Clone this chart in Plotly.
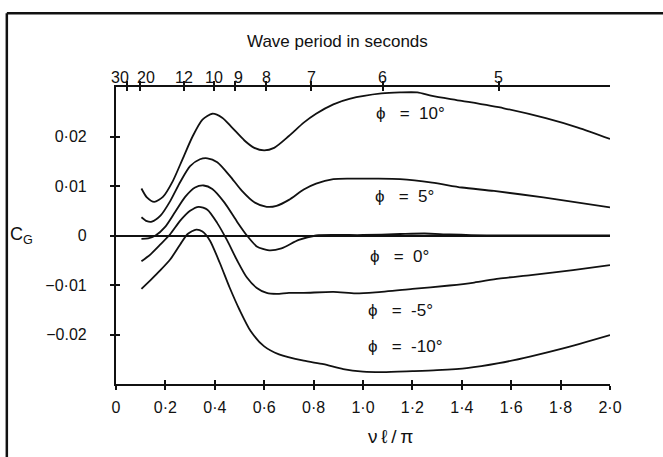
import plotly.graph_objects as go

# Gust coefficient C_G against nondimensional wave number, one curve per heading angle
x_p10 = [0.103, 0.125, 0.155, 0.19, 0.23, 0.27, 0.31, 0.35, 0.39, 0.43, 0.47, 0.52, 0.56, 0.60,
         0.64, 0.70, 0.76, 0.81, 0.88, 0.945, 1.075, 1.15, 1.22, 1.28, 1.40, 1.57, 1.74, 1.87, 2.00]
y_p10 = [0.0095, 0.0077, 0.0068, 0.0078, 0.0110, 0.0155, 0.0200, 0.0234, 0.0246, 0.0238, 0.0218,
         0.0192, 0.0177, 0.0172, 0.0177, 0.0201, 0.0228, 0.0246, 0.0265, 0.0276, 0.0287, 0.0289,
         0.0289, 0.0282, 0.0272, 0.0257, 0.0237, 0.0218, 0.0195]

x_p5 = [0.103, 0.125, 0.145, 0.18, 0.22, 0.26, 0.30, 0.34, 0.37, 0.41, 0.46, 0.51, 0.56, 0.61,
        0.65, 0.70, 0.76, 0.81, 0.88, 0.95, 1.05, 1.15, 1.28, 1.40, 1.53, 1.73, 2.00]
y_p5 = [0.0037, 0.0029, 0.0028, 0.0040, 0.0070, 0.0108, 0.0140, 0.0154, 0.0156, 0.0148, 0.0121,
        0.0090, 0.0067, 0.0058, 0.0060, 0.0072, 0.0093, 0.0105, 0.0114, 0.0115, 0.0115, 0.0114,
        0.0107, 0.0097, 0.0090, 0.0077, 0.0057]

x_0 = [0.103, 0.13, 0.16, 0.20, 0.24, 0.28, 0.32, 0.355, 0.39, 0.44, 0.49, 0.53, 0.57, 0.62,
       0.67, 0.74, 0.81, 0.90, 1.00, 1.15, 1.25, 1.35, 1.50, 2.00]
y_0 = [-0.0007, -0.0006, 0.0000, 0.0018, 0.0048, 0.0078, 0.0097, 0.0101, 0.0094, 0.0066, 0.0028,
       0.0000, -0.0022, -0.0030, -0.0026, -0.0009, 0.0000, 0.0001, 0.0001, 0.0003, 0.0004,
       0.0002, 0.0000, 0.0000]

x_m5 = [0.103, 0.14, 0.18, 0.22, 0.26, 0.30, 0.335, 0.37, 0.41, 0.45, 0.49, 0.53, 0.57, 0.61,
        0.65, 0.70, 0.76, 0.88, 0.97, 1.05, 1.20, 1.35, 1.45, 1.55, 1.68, 1.85, 2.00]
y_m5 = [-0.0052, -0.0038, -0.0018, 0.0003, 0.0030, 0.0050, 0.0058, 0.0052, 0.0025, -0.0010,
        -0.0050, -0.0085, -0.0106, -0.0116, -0.0118, -0.0116, -0.0116, -0.0114, -0.0117, -0.0115,
        -0.0108, -0.0101, -0.0095, -0.0087, -0.0080, -0.0070, -0.0060]

x_m10 = [0.103, 0.14, 0.18, 0.22, 0.26, 0.29, 0.325, 0.35, 0.38, 0.42, 0.46, 0.50, 0.545, 0.60,
         0.66, 0.76, 0.84, 0.92, 1.00, 1.08, 1.20, 1.30, 1.42, 1.55, 1.68, 1.81, 2.00]
y_m10 = [-0.0108, -0.0090, -0.0070, -0.0048, -0.0018, 0.0003, 0.0012, 0.0008, -0.0010, -0.0055,
         -0.0105, -0.0150, -0.0193, -0.0224, -0.0240, -0.0253, -0.0260, -0.0270, -0.0275, -0.0276,
         -0.0274, -0.0272, -0.0268, -0.0258, -0.0244, -0.0228, -0.0201]

curves = [(x_p10, y_p10), (x_p5, y_p5), (x_0, y_0), (x_m5, y_m5), (x_m10, y_m10)]

# Curve labels: text, x, y
label_text = ["ϕ   =  10°", "ϕ   =  5°", "ϕ   =  0°", "ϕ   =  -5°", "ϕ   =  -10°"]
label_x = [1.044, 1.04, 1.02, 1.014, 1.014]
label_y = [0.0247, 0.0078, -0.0043, -0.0151, -0.0225]

# Bottom axis ticks
x_ticks = [0, 0.2, 0.4, 0.6, 0.8, 1.0, 1.2, 1.4, 1.6, 1.8, 2.0]
x_ticktext = ["0", "0·2", "0·4", "0·6", "0·8", "1·0", "1·2", "1·4", "1·6", "1·8", "2·0"]

# Left axis ticks
y_ticks = [0.02, 0.01, 0, -0.01, -0.02]
y_ticktext = ["0·02", "0·01", "0", "−0·01", "−0.02"]

# Top axis: wave period (s), tick position on the νℓ/π scale, and label position
periods = ["30", "20", "12", "10", "9", "8", "7", "6", "5"]
period_pos = [0.045, 0.099, 0.274, 0.395, 0.48, 0.609, 0.791, 1.079, 1.55]
period_label_x = [0.018, 0.12, 0.276, 0.397, 0.496, 0.609, 0.793, 1.077, 1.55]

FONT = "Liberation Sans"
INK = "#111111"
X_RANGE = [0, 2.0]
Y_RANGE = [-0.03, 0.03]

fig = go.Figure()
for xs, ys in curves:
    fig.add_trace(go.Scatter(x=xs, y=ys, mode="lines",
                             line=dict(color=INK, width=1.8, shape="spline", smoothing=0.7),
                             hoverinfo="skip", showlegend=False))

# placeholder traces so the overlay axes are drawn
for xa, ya in [("x2", "y"), ("x3", "y"), ("x4", "y"), ("x", "y2")]:
    fig.add_trace(go.Scatter(x=[None], y=[None], xaxis=xa, yaxis=ya, showlegend=False, hoverinfo="skip"))

for t, lx, ly in zip(label_text, label_x, label_y):
    fig.add_annotation(x=lx, y=ly, text=t, showarrow=False, xanchor="left", yanchor="middle",
                       font=dict(family=FONT, size=17, color=INK))

# period labels above the top axis
for t, lx in zip(periods, period_label_x):
    fig.add_annotation(x=lx, xref="x", y=1.0, yref="paper", yshift=10, text=t, showarrow=False,
                       xanchor="center", yanchor="middle", font=dict(family=FONT, size=16, color=INK))

tickfont = dict(family=FONT, size=16, color=INK)

fig.update_layout(
    width=663, height=457,
    margin=dict(l=116, r=53, t=87, b=73),
    paper_bgcolor="white", plot_bgcolor="white",
    xaxis=dict(range=X_RANGE, showgrid=False, zeroline=False, showline=True, linecolor=INK, linewidth=2,
               ticks="outside", ticklen=4, tickwidth=1.5, tickcolor=INK, tickangle=0,
               tickvals=x_ticks, ticktext=x_ticktext, tickfont=tickfont, ticklabelstandoff=4),
    xaxis3=dict(range=X_RANGE, overlaying="x", side="bottom", anchor="y", showgrid=False, zeroline=False,
                showline=False, ticks="inside", ticklen=4, tickwidth=1.5, tickcolor=INK,
                tickvals=x_ticks, showticklabels=False),
    xaxis2=dict(range=X_RANGE, overlaying="x", side="top", anchor="y", showgrid=False, zeroline=False,
                showline=True, linecolor=INK, linewidth=2,
                ticks="outside", ticklen=4, tickwidth=1.5, tickcolor=INK,
                tickvals=period_pos, showticklabels=False),
    xaxis4=dict(range=X_RANGE, overlaying="x", side="top", anchor="y", showgrid=False, zeroline=False,
                showline=False, ticks="inside", ticklen=4, tickwidth=1.5, tickcolor=INK,
                tickvals=period_pos, showticklabels=False),
    yaxis=dict(range=Y_RANGE, showgrid=False, zeroline=True, zerolinecolor=INK, zerolinewidth=1.8,
               showline=True, linecolor=INK, linewidth=2.2,
               ticks="outside", ticklen=4, tickwidth=1.5, tickcolor=INK,
               tickvals=y_ticks, ticktext=y_ticktext, tickfont=tickfont, ticklabelstandoff=20),
    yaxis2=dict(range=Y_RANGE, overlaying="y", side="left", anchor="x", showgrid=False, zeroline=False,
                showline=False, ticks="inside", ticklen=4, tickwidth=1.5, tickcolor=INK,
                tickvals=y_ticks, showticklabels=False),
)

# Axis titles
fig.add_annotation(xref="x", yref="paper", x=0.896, y=1.152, text="Wave period in seconds",
                   showarrow=False, xanchor="center", yanchor="middle",
                   font=dict(family=FONT, size=17, color=INK))
fig.add_annotation(xref="x", yref="paper", x=1.11, y=-0.177, text="ν\u2009ℓ\u2009/\u2009π",
                   showarrow=False, xanchor="center", yanchor="middle",
                   font=dict(family=FONT, size=19, color=INK))
fig.add_annotation(xref="paper", yref="y", x=-0.191, y=0.0, text="C<sub>G</sub>",
                   showarrow=False, xanchor="center", yanchor="middle",
                   font=dict(family=FONT, size=18, color=INK))

# Outer frame (top and left edges)
fig.add_shape(type="line", xref="paper", yref="paper", x0=-0.221, x1=1.12, y0=1.248, y1=1.248,
              line=dict(color=INK, width=2.5))
fig.add_shape(type="line", xref="paper", yref="paper", x0=-0.221, x1=-0.221, y0=1.248, y1=-0.26,
              line=dict(color=INK, width=2.5))

fig.write_html("out.html")
